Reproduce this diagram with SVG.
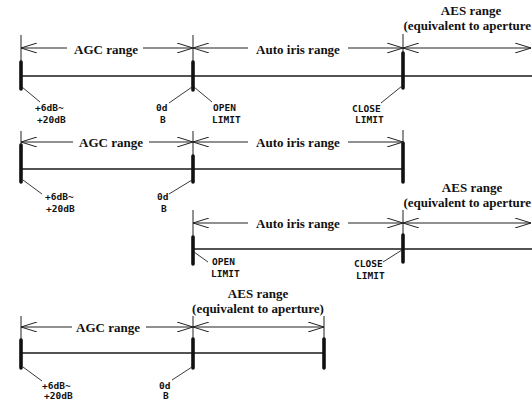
<svg xmlns="http://www.w3.org/2000/svg" width="532" height="402" viewBox="0 0 532 402">
<style>
.bg{fill:#fff}
.rng{font-family:"Liberation Serif","Times New Roman",serif;font-weight:bold;font-size:13px;fill:#111;text-anchor:middle}
.rnge{font-family:"Liberation Serif","Times New Roman",serif;font-weight:bold;font-size:13px;fill:#111;text-anchor:end}
.lbl{font-family:"DejaVu Sans Mono","Liberation Mono",monospace;font-weight:bold;font-size:9.5px;fill:#111}
.arr{stroke:#222;stroke-width:1;fill:none}
.tick{stroke:#222;stroke-width:1;fill:none}
.main{stroke:#1a1a1a;stroke-width:1.3;fill:none}
.mark{stroke:#111;stroke-width:3.6;stroke-linecap:round;fill:none}
.lead{stroke:#222;stroke-width:0.9;fill:none}
</style>
<defs>
<marker id="ah" viewBox="0 0 16 10" refX="16" refY="5" markerWidth="16" markerHeight="10" markerUnits="userSpaceOnUse" orient="auto-start-reverse">
<path d="M0,0 L16,5 L0,10" fill="none" stroke="#222" stroke-width="1"/>
</marker>
</defs>
<rect class="bg" x="0" y="0" width="532" height="402"/>

<g id="panel1">
<text class="rng" x="471" y="15">AES range</text>
<text class="rnge" x="531" y="30">(equivalent to aperture</text>
<text class="rng" x="106" y="54">AGC range</text>
<text class="rng" x="298" y="54">Auto iris range</text>
<text class="lbl" x="35" y="111">+6dB~</text>
<text class="lbl" x="37" y="123">+20dB</text>
<text class="lbl" x="156" y="111">0d</text>
<text class="lbl" x="160" y="123">B</text>
<text class="lbl" x="213" y="111">OPEN</text>
<text class="lbl" x="212" y="123">LIMIT</text>
<text class="lbl" x="352" y="112">CLOSE</text>
<text class="lbl" x="355" y="123">LIMIT</text>
<line class="tick" x1="21" y1="35" x2="21" y2="62"/>
<line class="tick" x1="193" y1="35" x2="193" y2="62"/>
<line class="tick" x1="403" y1="34" x2="403" y2="53"/>
<line class="main" x1="21" y1="76" x2="532" y2="76"/>
<line class="mark" x1="21" y1="62" x2="21" y2="89"/>
<line class="mark" x1="193" y1="62" x2="193" y2="90"/>
<line class="mark" x1="403" y1="53" x2="403" y2="88"/>
</g>

<g id="panel2">
<text class="rng" x="111" y="147">AGC range</text>
<text class="rng" x="298" y="147">Auto iris range</text>
<text class="lbl" x="45" y="200">+6dB~</text>
<text class="lbl" x="46" y="212">+20dB</text>
<text class="lbl" x="157" y="200">0d</text>
<text class="lbl" x="161" y="212">B</text>
<line class="tick" x1="21" y1="131" x2="21" y2="145"/>
<line class="tick" x1="193" y1="131" x2="193" y2="156"/>
<line class="tick" x1="403" y1="130" x2="403" y2="143"/>
<line class="main" x1="21" y1="169" x2="403" y2="169"/>
<line class="mark" x1="21" y1="145" x2="21" y2="182"/>
<line class="mark" x1="193" y1="156" x2="193" y2="182"/>
<line class="mark" x1="403" y1="143" x2="403" y2="182"/>
</g>

<g id="panel3">
<text class="rng" x="472" y="192">AES range</text>
<text class="rnge" x="531" y="207">(equivalent to aperture</text>
<text class="rng" x="298" y="228">Auto iris range</text>
<text class="lbl" x="212" y="265">OPEN</text>
<text class="lbl" x="211" y="277">LIMIT</text>
<text class="lbl" x="354" y="267">CLOSE</text>
<text class="lbl" x="356" y="279">LIMIT</text>
<line class="tick" x1="193" y1="210" x2="193" y2="237"/>
<line class="tick" x1="403" y1="210" x2="403" y2="235"/>
<line class="main" x1="193" y1="249" x2="532" y2="249"/>
<line class="mark" x1="193" y1="237" x2="193" y2="264"/>
<line class="mark" x1="403" y1="235" x2="403" y2="262"/>
</g>

<g id="panel4">
<text class="rng" x="258" y="298">AES range</text>
<text class="rng" x="258" y="313">(equivalent to aperture)</text>
<text class="rng" x="108" y="332">AGC range</text>
<text class="lbl" x="42" y="389">+6dB~</text>
<text class="lbl" x="44" y="399">+20dB</text>
<text class="lbl" x="159" y="389">0d</text>
<text class="lbl" x="163" y="399">B</text>
<line class="tick" x1="21" y1="316" x2="21" y2="340"/>
<line class="tick" x1="193" y1="316" x2="193" y2="339"/>
<line class="tick" x1="324" y1="316" x2="324" y2="339"/>
<line class="main" x1="21" y1="353" x2="324" y2="353"/>
<line class="mark" x1="21" y1="340" x2="21" y2="368"/>
<line class="mark" x1="193" y1="339" x2="193" y2="368"/>
<line class="mark" x1="324" y1="339" x2="324" y2="368"/>
</g>

<g id="connectors">
<line class="arr" x1="21" y1="48" x2="67" y2="48" marker-start="url(#ah)"/>
<line class="arr" x1="143" y1="48" x2="193" y2="48" marker-end="url(#ah)"/>
<line class="arr" x1="193" y1="48" x2="248" y2="48" marker-start="url(#ah)"/>
<line class="arr" x1="348" y1="48" x2="403" y2="48" marker-end="url(#ah)"/>
<line class="arr" x1="403" y1="48" x2="531" y2="48" marker-start="url(#ah)" marker-end="url(#ah)"/>

<line class="arr" x1="21" y1="142" x2="73" y2="142" marker-start="url(#ah)"/>
<line class="arr" x1="149" y1="142" x2="193" y2="142" marker-end="url(#ah)"/>
<line class="arr" x1="193" y1="142" x2="248" y2="142" marker-start="url(#ah)"/>
<line class="arr" x1="348" y1="142" x2="403" y2="142" marker-end="url(#ah)"/>

<line class="arr" x1="193" y1="223" x2="248" y2="223" marker-start="url(#ah)"/>
<line class="arr" x1="348" y1="223" x2="403" y2="223" marker-end="url(#ah)"/>
<line class="arr" x1="403" y1="223" x2="531" y2="223" marker-start="url(#ah)" marker-end="url(#ah)"/>

<line class="arr" x1="21" y1="327" x2="72" y2="327" marker-start="url(#ah)"/>
<line class="arr" x1="146" y1="327" x2="193" y2="327" marker-end="url(#ah)"/>
<line class="arr" x1="193" y1="327" x2="324" y2="327" marker-start="url(#ah)" marker-end="url(#ah)"/>

<line class="lead" x1="22" y1="87" x2="40" y2="102"/>
<line class="lead" x1="192" y1="87" x2="169" y2="103"/>
<line class="lead" x1="194" y1="87" x2="212" y2="102"/>
<line class="lead" x1="402" y1="86" x2="381" y2="103"/>
<line class="lead" x1="23" y1="180" x2="42" y2="194"/>
<line class="lead" x1="192" y1="180" x2="169" y2="194"/>
<line class="lead" x1="194" y1="252" x2="208" y2="262"/>
<line class="lead" x1="402" y1="250" x2="383" y2="262"/>
<line class="lead" x1="23" y1="367" x2="42" y2="381"/>
<line class="lead" x1="192" y1="367" x2="172" y2="380"/>
</g>
</svg>
